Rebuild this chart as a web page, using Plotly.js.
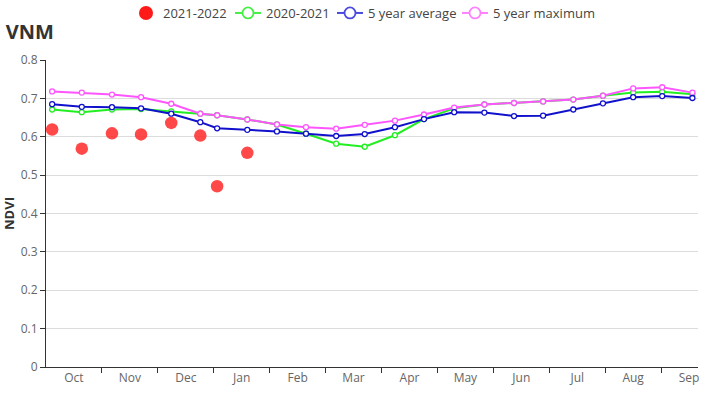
<!DOCTYPE html>
<html><head><meta charset="utf-8">
<script src="https://cdn.plot.ly/plotly-3.0.1.min.js"></script>
<style>html,body{margin:0;padding:0;background:#fff}#c{width:726px;height:400px}</style>
</head><body><div id="c"></div>
<script>
// x positions in months from Oct 1
const xPos = [0.11,0.64,1.18,1.70,2.24,2.76,3.06,3.60,4.13,4.65,5.19,5.70,6.24,6.76,7.30,7.84,8.37,8.89,9.43,9.96,10.50,11.02,11.56];
const months = ['Oct','Nov','Dec','Jan','Feb','Mar','Apr','May','Jun','Jul','Aug','Sep'];
const monthCenters = [0.5,1.5,2.5,3.5,4.5,5.5,6.5,7.5,8.5,9.5,10.5,11.5];
const monthBounds = [1,2,3,4,5,6,7,8,9,10,11];
const ndvi2122 = [0.619,0.569,0.609,0.606,0.636,0.603,0.471,0.558];
const ndvi2021 = [0.671,0.664,0.671,0.672,0.666,0.660,0.656,0.645,0.632,0.608,0.582,0.574,0.604,0.646,0.674,0.684,0.688,0.692,0.697,0.707,0.715,0.717,0.711];
const avg5 = [0.685,0.678,0.677,0.674,0.660,0.638,0.622,0.618,0.614,0.608,0.602,0.607,0.625,0.646,0.664,0.663,0.654,0.655,0.671,0.687,0.703,0.706,0.701];
const max5 = [0.718,0.715,0.710,0.703,0.686,0.660,0.656,0.645,0.632,0.625,0.621,0.631,0.642,0.658,0.676,0.684,0.688,0.692,0.697,0.707,0.726,0.729,0.715];

const seriesNames = ['2021-2022','2020-2021','5 year average','5 year maximum'];
const seriesColors = ['rgba(255,40,40,0.85)','#22ee22','#1111cc','#ff55ff'];
const legendColors = ['#ff1a1a','#44f044','#4a4ae0','#ff80ff'];

const F = '"Open Sans", "Noto Sans", sans-serif';
const W = 726, H = 400, ML = 46, MR = 28, MT = 59.5, MB = 32.5;
const PW = W - ML - MR, PH = H - MT - MB;
const px2x = p => (p - ML) / PW;
const px2y = p => (H - MB - p) / PH;

function lineTrace(i, y){
  return {type:'scatter', mode:'lines+markers', name:seriesNames[i], x:xPos, y:y, showlegend:false,
    line:{color:seriesColors[i], width:2},
    marker:{symbol:'circle', size:5, color:'#fff', line:{color:seriesColors[i], width:1.3}}};
}
const traces = [
  lineTrace(1, ndvi2021),
  lineTrace(3, max5),
  lineTrace(2, avg5),
  {type:'scatter', mode:'markers', name:seriesNames[0], x:xPos.slice(0, ndvi2122.length), y:ndvi2122, showlegend:false,
   marker:{size:12.5, color:seriesColors[0]}},
  {type:'scatter', mode:'markers', x:[0], y:[0], xaxis:'x2', showlegend:false, hoverinfo:'skip', marker:{opacity:0}}
];

// custom compact legend (layout decoration): symbol left edge, text left edge in pixels
const legSym = [139, 235, 337, 462];
const legTxt = [163, 266, 368, 493];
const legY = px2y(12.3);
const shapes = [], annotations = [];
legSym.forEach((L, i) => {
  if (i === 0) {
    shapes.push({type:'circle', xref:'paper', yref:'paper', xsizemode:'pixel', ysizemode:'pixel',
      xanchor:px2x(L+7), yanchor:legY, x0:-7, x1:7, y0:-7, y1:7, fillcolor:legendColors[0], line:{width:0}});
  } else {
    shapes.push({type:'line', xref:'paper', yref:'paper', x0:px2x(L), x1:px2x(L+26), y0:legY, y1:legY, line:{color:legendColors[i], width:2}});
    shapes.push({type:'circle', xref:'paper', yref:'paper', xsizemode:'pixel', ysizemode:'pixel',
      xanchor:px2x(L+13), yanchor:legY, x0:-5.5, x1:5.5, y0:-5.5, y1:5.5, fillcolor:'#fff', line:{color:legendColors[i], width:1.8}});
  }
  annotations.push({xref:'paper', yref:'paper', x:px2x(legTxt[i]-2), y:legY, xanchor:'left', yanchor:'middle', showarrow:false,
    text:seriesNames[i], font:{size:13, color:'#444', family:F}});
});

const layout = {
  width:W, height:H,
  margin:{l:ML, r:MR, t:MT, b:MB},
  paper_bgcolor:'#fff', plot_bgcolor:'#fff',
  font:{family:F, size:12, color:'#666'},
  title:{text:'<b>VNM</b>', x:0.008, xref:'container', xanchor:'left', y:0.92, yref:'container', yanchor:'middle', font:{size:20, color:'#333', family:F}},
  showlegend:false,
  shapes:shapes, annotations:annotations,
  xaxis:{range:[0,11.66], tickmode:'array', tickvals:monthCenters, ticktext:months, ticks:'', showgrid:false, zeroline:false,
    showline:true, linecolor:'#333', linewidth:1, tickfont:{size:12, color:'#666'}, fixedrange:true},
  xaxis2:{range:[0,11.66], overlaying:'x', anchor:'y', side:'bottom', tickmode:'array', tickvals:monthBounds, ticks:'outside', ticklen:5, tickcolor:'#333',
    showticklabels:false, showgrid:false, zeroline:false, showline:false},
  yaxis:{range:[0,0.8], tickmode:'array', tickvals:[0,0.1,0.2,0.3,0.4,0.5,0.6,0.7,0.8], ticktext:['0','0.1','0.2','0.3','0.4','0.5','0.6','0.7','0.8'],
    ticks:'outside', ticklen:5, tickcolor:'#333', showline:true, linecolor:'#333', linewidth:1, gridcolor:'#dcdcdc', zeroline:false,
    tickfont:{size:12, color:'#666'},
    title:{text:'<b>NDVI</b>', standoff:7, font:{size:13, color:'#333'}}}
};
Plotly.newPlot('c', traces, layout, {displayModeBar:false, staticPlot:true});
</script></body></html>
